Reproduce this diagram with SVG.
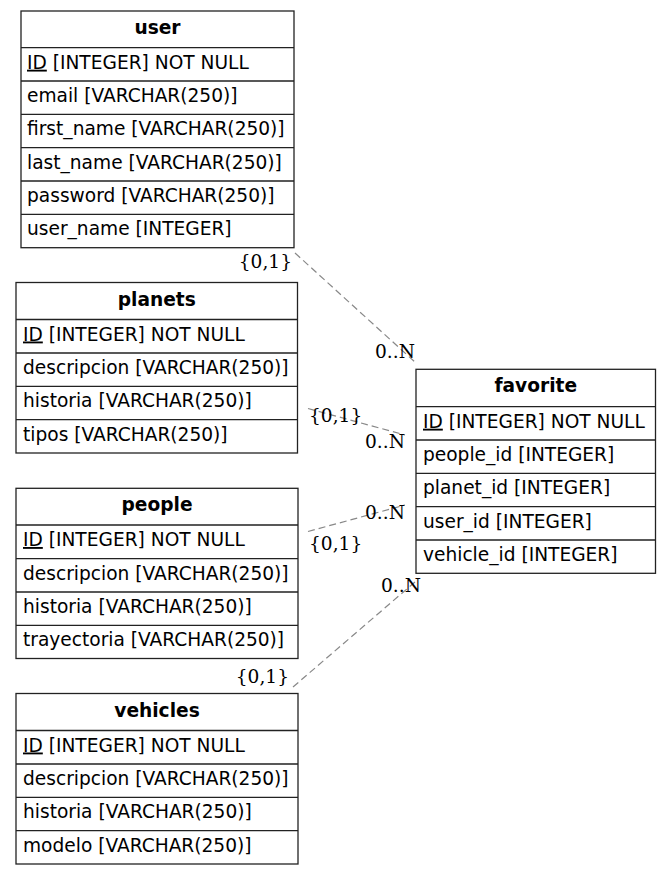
<svg xmlns="http://www.w3.org/2000/svg" width="671" height="875" viewBox="0 0 671 875">
<style>
.box{fill:#fff;stroke:#222;stroke-width:1.3}
.sep{stroke:#222;stroke-width:1.3}
.h{font-family:"DejaVu Sans",sans-serif;font-size:18.6px;font-weight:bold;text-anchor:middle;fill:#000}
.t{font-family:"DejaVu Sans",sans-serif;font-size:18.6px;fill:#000}
.u{text-decoration:underline}
.e{fill:none;stroke:#888;stroke-width:1.2;stroke-dasharray:7,4}
.l{font-family:"DejaVu Serif",serif;font-size:18.6px;fill:#000}
</style>
<rect width="671" height="875" fill="#fff"/>
<g id="connectors">
<line class="e" x1="295" y1="253" x2="416" y2="363"/>
<line class="e" x1="308" y1="408.5" x2="405" y2="435"/>
<line class="e" x1="308" y1="531.5" x2="405" y2="505"/>
<line class="e" x1="293" y1="687" x2="415" y2="582"/>
<text class="l" x="292" y="268" text-anchor="end">{0,1}</text>
<text class="l" x="375" y="358">0..N</text>
<text class="l" x="309" y="422">{0,1}</text>
<text class="l" x="365" y="448">0..N</text>
<text class="l" x="309" y="550">{0,1}</text>
<text class="l" x="365" y="519">0..N</text>
<text class="l" x="289" y="683" text-anchor="end">{0,1}</text>
<text class="l" x="381" y="592">0..N</text>
</g>
<g id="user">
<rect class="box" x="21" y="11" width="273" height="236.7"/>
<path class="sep" d="M21 47.7H294M21 81H294M21 114.3H294M21 147.7H294M21 181H294M21 214.3H294"/>
<text class="h" x="157.5" y="34">user</text>
<text class="t" x="27" y="68.7"><tspan class="u">ID</tspan> [INTEGER] NOT NULL</text>
<text class="t" x="27" y="102">email [VARCHAR(250)]</text>
<text class="t" x="27" y="135.3">first_name [VARCHAR(250)]</text>
<text class="t" x="27" y="168.7">last_name [VARCHAR(250)]</text>
<text class="t" x="27" y="202">password [VARCHAR(250)]</text>
<text class="t" x="27" y="235.3">user_name [INTEGER]</text>
</g>
<g id="planets">
<rect class="box" x="16" y="282.5" width="281.5" height="170.5"/>
<path class="sep" d="M16 319.5H297.5M16 353H297.5M16 386.3H297.5M16 419.7H297.5"/>
<text class="h" x="156.75" y="305.5">planets</text>
<text class="t" x="23" y="340.5"><tspan class="u">ID</tspan> [INTEGER] NOT NULL</text>
<text class="t" x="23" y="374">descripcion [VARCHAR(250)]</text>
<text class="t" x="23" y="407.3">historia [VARCHAR(250)]</text>
<text class="t" x="23" y="440.7">tipos [VARCHAR(250)]</text>
</g>
<g id="people">
<rect class="box" x="16" y="488.3" width="282" height="170.2"/>
<path class="sep" d="M16 525H298M16 558.7H298M16 592H298M16 625.3H298"/>
<text class="h" x="157" y="511.3">people</text>
<text class="t" x="23" y="546"><tspan class="u">ID</tspan> [INTEGER] NOT NULL</text>
<text class="t" x="23" y="579.7">descripcion [VARCHAR(250)]</text>
<text class="t" x="23" y="613">historia [VARCHAR(250)]</text>
<text class="t" x="23" y="646.3">trayectoria [VARCHAR(250)]</text>
</g>
<g id="vehicles">
<rect class="box" x="16" y="693.5" width="282" height="170.5"/>
<path class="sep" d="M16 730.5H298M16 764H298M16 797.3H298M16 830.7H298"/>
<text class="h" x="157" y="716.5">vehicles</text>
<text class="t" x="23" y="751.5"><tspan class="u">ID</tspan> [INTEGER] NOT NULL</text>
<text class="t" x="23" y="785">descripcion [VARCHAR(250)]</text>
<text class="t" x="23" y="818.3">historia [VARCHAR(250)]</text>
<text class="t" x="23" y="851.7">modelo [VARCHAR(250)]</text>
</g>
<g id="favorite">
<rect class="box" x="416" y="369.3" width="239.5" height="204"/>
<path class="sep" d="M416 406.7H655.5M416 440H655.5M416 473.3H655.5M416 506.7H655.5M416 540H655.5"/>
<text class="h" x="535.75" y="392.3">favorite</text>
<text class="t" x="423" y="427.7"><tspan class="u">ID</tspan> [INTEGER] NOT NULL</text>
<text class="t" x="423" y="461">people_id [INTEGER]</text>
<text class="t" x="423" y="494.3">planet_id [INTEGER]</text>
<text class="t" x="423" y="527.7">user_id [INTEGER]</text>
<text class="t" x="423" y="561">vehicle_id [INTEGER]</text>
</g>
</svg>
